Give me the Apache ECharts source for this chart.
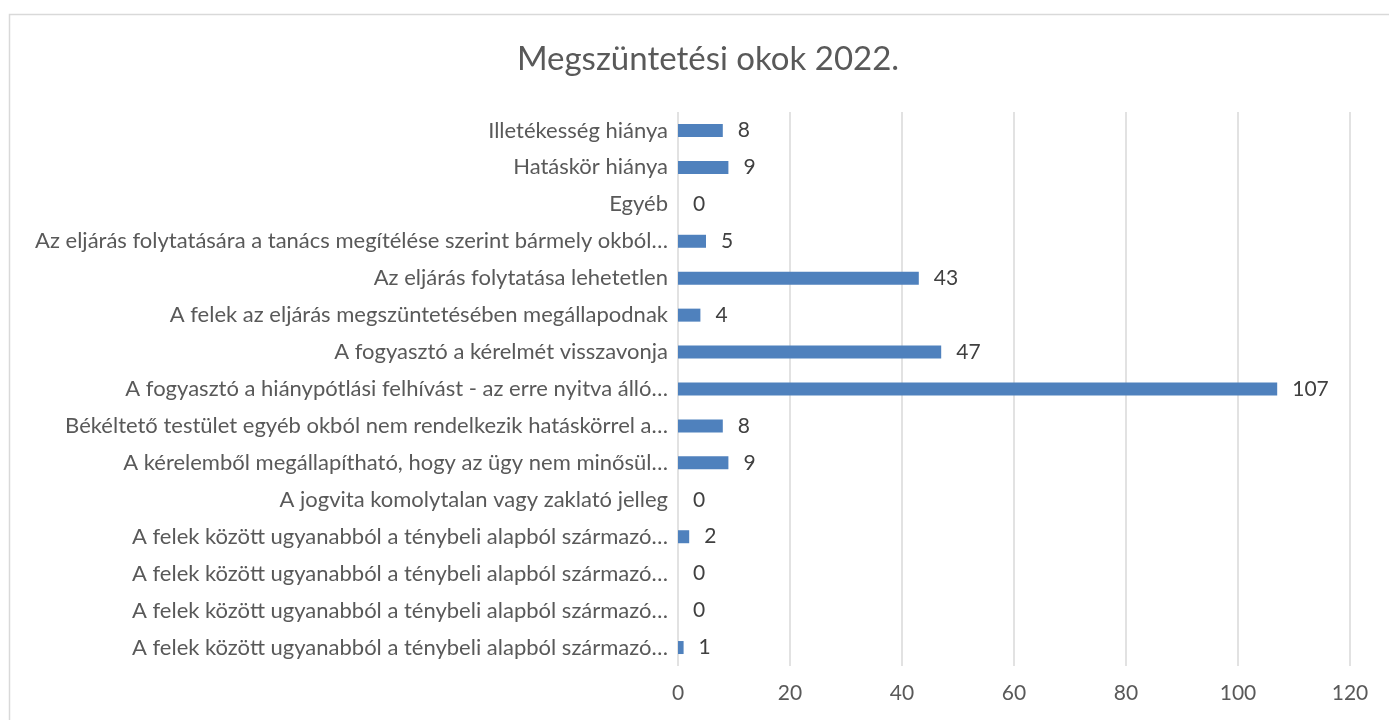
<!DOCTYPE html>
<html>
<head>
<meta charset="utf-8">
<title>Megszüntetési okok 2022.</title>
<script src="https://cdn.jsdelivr.net/npm/echarts@6/dist/echarts.min.js"></script>
<style>
  html, body { margin: 0; padding: 0; background: #fff; }
  #chart { width: 1389px; height: 720px; }
</style>
</head>
<body>
<div id="chart"></div>
<script>
// categories, top to bottom as in the picture
const categories = [
  'Illetékesség hiánya',
  'Hatáskör hiánya',
  'Egyéb',
  'Az eljárás folytatására a tanács megítélése szerint bármely okból…',
  'Az eljárás folytatása lehetetlen',
  'A felek az eljárás megszüntetésében megállapodnak',
  'A fogyasztó a kérelmét visszavonja',
  'A fogyasztó a hiánypótlási felhívást - az erre nyitva álló…',
  'Békéltető testület egyéb okból nem rendelkezik hatáskörrel a…',
  'A kérelemből megállapítható, hogy az ügy nem minősül…',
  'A jogvita komolytalan vagy zaklató jelleg',
  'A felek között ugyanabból a ténybeli alapból származó…',
  'A felek között ugyanabból a ténybeli alapból származó…',
  'A felek között ugyanabból a ténybeli alapból származó…',
  'A felek között ugyanabból a ténybeli alapból származó…'
]
const values = [8, 9, 0, 5, 43, 4, 47, 107, 8, 9, 0, 2, 0, 0, 1]
const xTicks = [0, 20, 40, 60, 80, 100, 120]

const font = 'Lato, "Open Sans", sans-serif'
const chart = echarts.init(document.getElementById('chart'))

chart.setOption({
  animation: false,
  textStyle: { fontFamily: font },
  title: {
    text: 'Megszüntetési okok 2022.',
    left: 703,
    textAlign: 'center',
    top: 38,
    textStyle: { fontSize: 33, fontWeight: 'normal', color: '#595959', fontFamily: font }
  },
  graphic: [{
    type: 'rect',
    shape: { x: 9.5, y: 14.5, width: 1400, height: 800 },
    style: { fill: 'none', stroke: '#d9d9d9', lineWidth: 1.5 },
    silent: true
  }],
  grid: { left: 678, right: 39, top: 112, bottom: 54, containLabel: false },
  xAxis: {
    type: 'value',
    min: xTicks[0],
    max: xTicks[xTicks.length - 1],
    interval: 20,
    axisLine: { show: false },
    axisTick: { show: false },
    splitLine: { lineStyle: { color: '#d9d9d9', width: 1.5 } },
    axisLabel: { fontSize: 21, color: '#595959', margin: 17, fontFamily: font }
  },
  yAxis: {
    type: 'category',
    inverse: true,
    data: categories,
    axisLine: { show: false },
    axisTick: { show: false },
    axisLabel: { fontSize: 22, color: '#595959', margin: 10, fontFamily: font }
  },
  series: [{
    type: 'bar',
    data: values,
    barWidth: 13,
    itemStyle: { color: '#4f81bd' },
    label: {
      show: true,
      position: 'right',
      distance: 15,
      fontSize: 21,
      color: '#404040',
      fontFamily: font
    }
  }]
})
</script>
</body>
</html>
